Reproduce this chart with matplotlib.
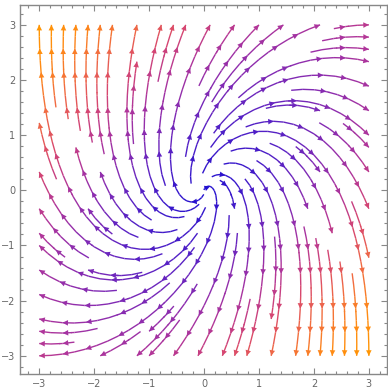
import numpy as np
import matplotlib.pyplot as plt
from matplotlib.colors import LinearSegmentedColormap
from matplotlib.patches import FancyArrowPatch
from matplotlib.ticker import MultipleLocator

# linear field  u = x + y,  v = 2y - 2x  on [-3, 3]^2
x_range = [-3, 3]
y_range = [-3, 3]
ticks = [-3, -2, -1, 0, 1, 2, 3]

colors = ["#2010d0", "#5a22c4", "#8a2cb0", "#b0359a", "#d8476e", "#f06a44", "#ff8a14", "#ff9a00"]
stops = [0.0, 0.2, 0.33, 0.45, 0.58, 0.7, 0.85, 1.0]
cmap = LinearSegmentedColormap.from_list("sunset", list(zip(stops, colors)))

xs = np.linspace(x_range[0], x_range[1], 200)
ys = np.linspace(y_range[0], y_range[1], 200)
X, Y = np.meshgrid(xs, ys)
U = X + Y
V = 2 * Y - 2 * X
speed = np.hypot(U, V)
norm = plt.Normalize(0, speed.max())

fig = plt.figure(figsize=(3.88, 3.89), dpi=100)
ax = fig.add_axes([20 / 388, 15 / 389, 367 / 388, 369 / 389])

sp = ax.streamplot(X, Y, U, V, color=speed, cmap=cmap, norm=norm,
                   density=0.95, linewidth=1.0, arrowstyle="-", arrowsize=0.1)
sp.arrows.set_visible(False)

# rebuild each streamline from its segments, then put arrowheads along it
segs = sp.lines.get_segments()
vals = np.asarray(sp.lines.get_array())
lines, cur, cv = [], [], []
for i, s in enumerate(segs):
    if cur and not np.allclose(cur[-1], s[0]):
        lines.append((np.array(cur), np.array(cv)))
        cur, cv = [], []
    if not cur:
        cur.append(s[0])
    cur.append(s[1])
    cv.append(vals[i])
if cur:
    lines.append((np.array(cur), np.array(cv)))

step = 0.5
for pts, v in lines:
    d = np.hypot(*np.diff(pts, axis=0).T)
    s = np.concatenate([[0], np.cumsum(d)])
    total = s[-1]
    if total < 0.15:
        continue
    pos = total
    while pos > 0.1:
        j = np.searchsorted(s, pos) - 1
        j = min(max(j, 0), len(pts) - 2)
        k = max(np.searchsorted(s, pos - 0.05) - 1, 0)
        tip = pts[j + 1]
        tail = pts[min(k, j)]
        c = cmap(norm(v[min(j, len(v) - 1)]))
        ax.add_patch(FancyArrowPatch(tail, tip, arrowstyle="-|>", mutation_scale=10,
                                     color=c, lw=0, shrinkA=0, shrinkB=0))
        pos -= step

ax.set_xlim(-3.35, 3.33)
ax.set_ylim(-3.33, 3.36)
ax.set_xticks(ticks)
ax.set_yticks(ticks)
ax.xaxis.set_minor_locator(MultipleLocator(0.2))
ax.yaxis.set_minor_locator(MultipleLocator(0.2))
ax.tick_params(which="both", direction="in", top=True, right=True, color="#888888",
               labelcolor="#666666", labelsize=7, width=0.8)
ax.tick_params(which="major", length=4)
ax.tick_params(which="minor", length=2)
for sp_ in ax.spines.values():
    sp_.set_color("#888888")
    sp_.set_linewidth(1.0)

fig.savefig("out.png", dpi=100)
